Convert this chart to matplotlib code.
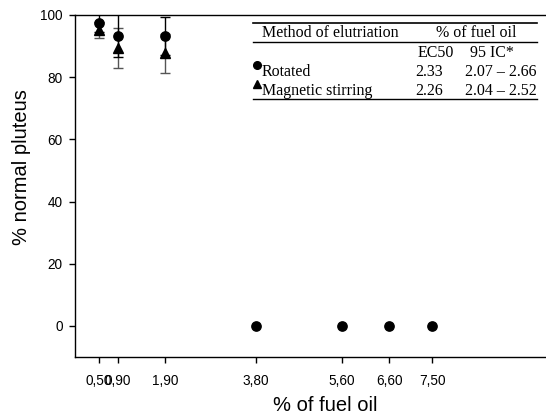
import matplotlib
matplotlib.use("Agg")
import matplotlib.pyplot as plt
import numpy as np

plt.rcParams['font.family'] = ['Liberation Sans', 'DejaVu Sans']

# Data
conc = [0.5, 0.9, 1.9, 3.8, 5.6, 6.6, 7.5]
tick_labels = ["0,50", "0,90", "1,90", "3,80", "5,60", "6,60", "7,50"]
rotated = [97.5, 93.4, 93.2, 0, 0, 0, 0]
rotated_err = [3.0, 7.0, 6.1, 0, 0, 0, 0]
magnetic = [95.2, 89.3, 87.7, 0, 0, 0, 0]
magnetic_err = [2.5, 6.5, 6.2, 0, 0, 0, 0]

table_header = ["Method of elutriation", "% of fuel oil"]
table_sub = ["EC50", "95 IC*"]
methods = ["Rotated", "Magnetic stirring"]
ec50 = ["2.33", "2.26"]
ic95 = ["2.07 \u2013 2.66", "2.04 \u2013 2.52"]

W, H = 546, 417
fig = plt.figure(figsize=(W / 100, H / 100), dpi=100)
ax = fig.add_axes([75 / W, (H - 357) / H, 500 / W, 342 / H])

# error bars (only nonzero)
idx_m = [i for i, e in enumerate(magnetic_err) if e > 0]
idx_r = [i for i, e in enumerate(rotated_err) if e > 0]
ax.errorbar([conc[i] for i in idx_m], [magnetic[i] for i in idx_m],
            yerr=[magnetic_err[i] for i in idx_m], fmt='none', ecolor='#555555',
            elinewidth=1, capsize=3.6, capthick=1, zorder=2)
ax.errorbar([conc[i] for i in idx_r], [rotated[i] for i in idx_r],
            yerr=[rotated_err[i] for i in idx_r], fmt='none', ecolor='black',
            elinewidth=1, capsize=3.6, capthick=1, zorder=2)
# triangles at zero are hidden behind the circles in the original
ax.plot([conc[i] for i in idx_m], [magnetic[i] for i in idx_m],
        linestyle='none', marker='^', color='black', ms=7, zorder=3)
ax.plot(conc, rotated, linestyle='none', marker='o', color='black', ms=6.7, zorder=4)

ax.set_xlim(0, 10.5)
ax.set_ylim(-10, 100)
ax.set_xticks(conc)
ax.set_xticklabels(tick_labels)
ax.set_yticks([0, 20, 40, 60, 80, 100])
ax.tick_params(axis='both', direction='out', length=4, width=1, labelsize=9.8)
ax.tick_params(axis='y', pad=5)
ax.tick_params(axis='x', pad=8)
for s in ax.spines.values():
    s.set_linewidth(1)
ax.set_xlabel("% of fuel oil", fontsize=14.5, labelpad=6)
ax.set_ylabel("% normal pluteus", fontsize=14.5)
ax.yaxis.set_label_coords(-0.088, 0.556)

# inset table in pixel coordinates
def fx(x):
    return x / W

def fy(y):
    return 1 - y / H

serif = "Liberation Serif"
fs = 11.5
for y, lw in [(22.7, 1.2), (41.7, 1.0), (99.3, 1.0)]:
    fig.add_artist(plt.Line2D([fx(253), fx(537)], [fy(y), fy(y)], color='black', lw=lw))
fig.text(fx(261.7), fy(37.3), table_header[0], family=serif, fontsize=fs, va='baseline', ha='left')
fig.text(fx(476.7), fy(37.3), table_header[1], family=serif, fontsize=fs, va='baseline', ha='center')
fig.text(fx(436), fy(56.7), table_sub[0], family=serif, fontsize=fs, va='baseline', ha='center')
fig.text(fx(492), fy(56.7), table_sub[1], family=serif, fontsize=fs, va='baseline', ha='center')
rows_y = [76, 95]
for i, m in enumerate(methods):
    fig.text(fx(261.7), fy(rows_y[i]), m, family=serif, fontsize=fs, va='baseline', ha='left')
    fig.text(fx(415), fy(rows_y[i]), ec50[i], family=serif, fontsize=fs, va='baseline', ha='left')
    fig.text(fx(536.7), fy(rows_y[i]), ic95[i], family=serif, fontsize=fs, va='baseline', ha='right')
fig.add_artist(plt.Line2D([fx(256.7)], [fy(64.5)], marker='o', color='black', ms=5.5, linestyle='none'))
fig.add_artist(plt.Line2D([fx(256.7)], [fy(83.5)], marker='^', color='black', ms=5.5, linestyle='none'))

fig.savefig("out.png", dpi=100)
